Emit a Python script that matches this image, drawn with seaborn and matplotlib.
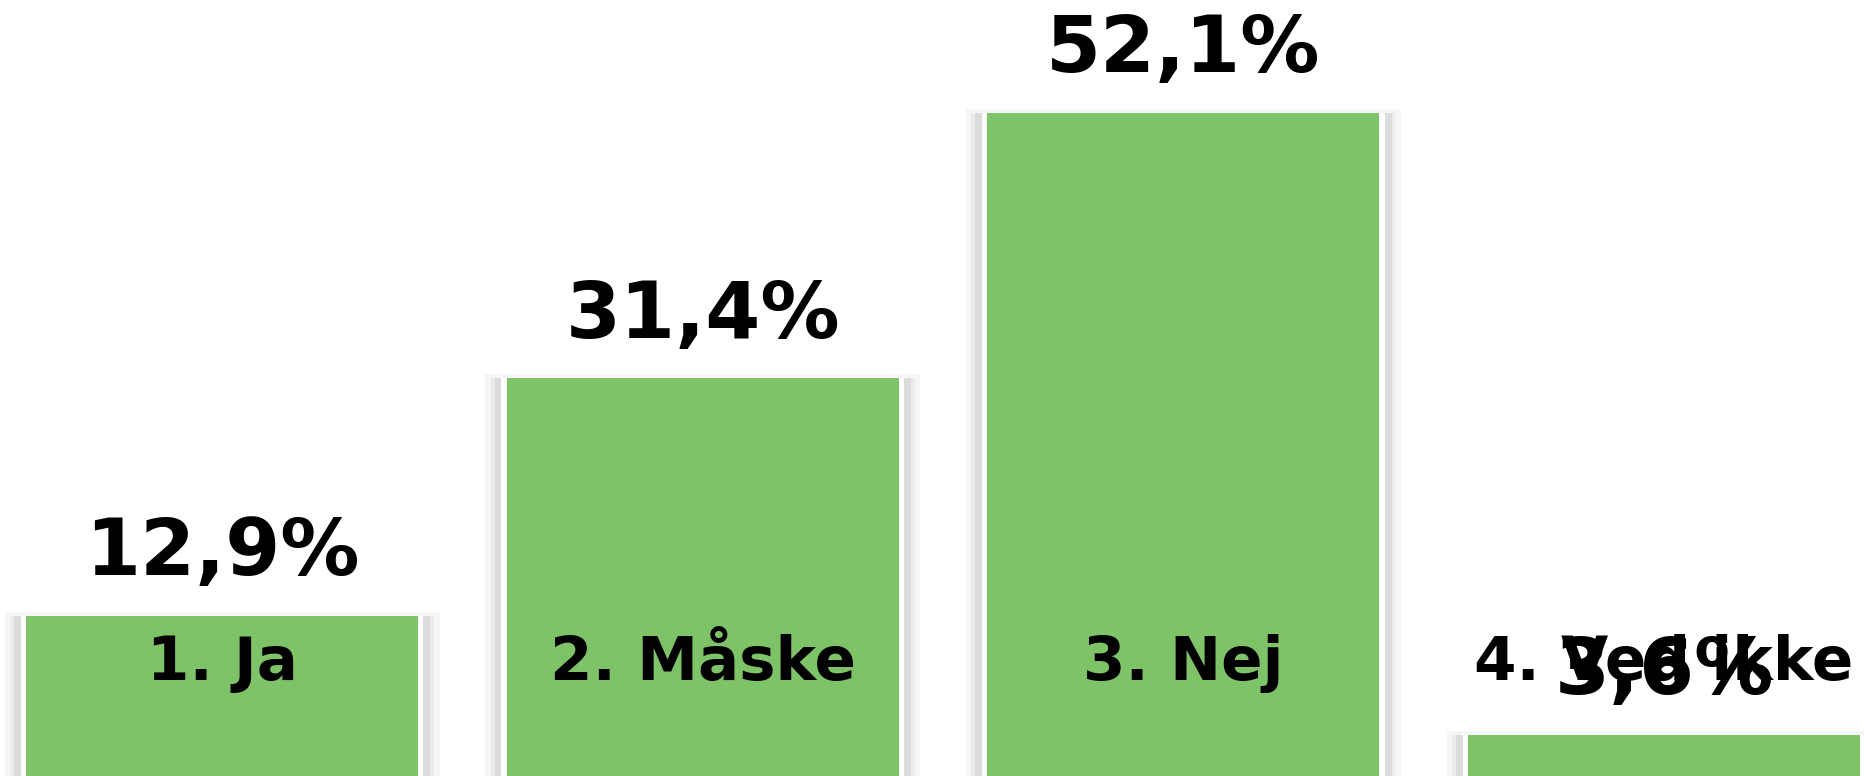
import pandas as pd
import matplotlib.pyplot as plt
import seaborn as sns

sns.set_theme(style="white")
plt.rcParams["font.family"] = ["DejaVu Sans"]

# data
categories = ["1. Ja", "2. Måske", "3. Nej", "4. Ved ikke"]
values = [12.9, 31.4, 52.1, 3.6]

df = pd.DataFrame({"svar": categories, "andel": values})
df["skygge"] = df["andel"] + 0.3   # faint shadow peeks a little above the bar

GREEN = "#7FC369"

fig = plt.figure(figsize=(18.64, 7.76), dpi=100)
ax = fig.add_axes([0, 0, 1, 1])

# soft grey shadow, then a thin white rim, then the bar
layers = [
    ("skygge", 0.905, "#f6f6f6"),
    ("andel", 0.882, "#ebebeb"),
    ("andel", 0.866, "#dcdcdc"),
    ("andel", 0.838, "white"),
]
for col, w, c in layers:
    sns.barplot(data=df, x="svar", y=col, color=c, width=w,
                saturation=1, linewidth=0, ax=ax, zorder=1)

sns.barplot(data=df, x="svar", y="andel", color=GREEN, width=0.816,
            saturation=1, linewidth=0, ax=ax, zorder=3)

for i, (cat, v) in enumerate(zip(categories, values)):
    ax.text(i, v + 3.15, f"{v:.1f}%".replace(".", ","), ha="center", va="baseline",
            fontsize=57, fontweight="bold", color="black", zorder=5)
    ax.text(i, 7.9, cat, ha="center", va="baseline",
            fontsize=44, fontweight="bold", color="black", zorder=5)

ax.set_xlim(-0.462, 3.416)
ax.set_ylim(0.39, 60.9)
ax.set_axis_off()

fig.savefig("out.png", dpi=100)
